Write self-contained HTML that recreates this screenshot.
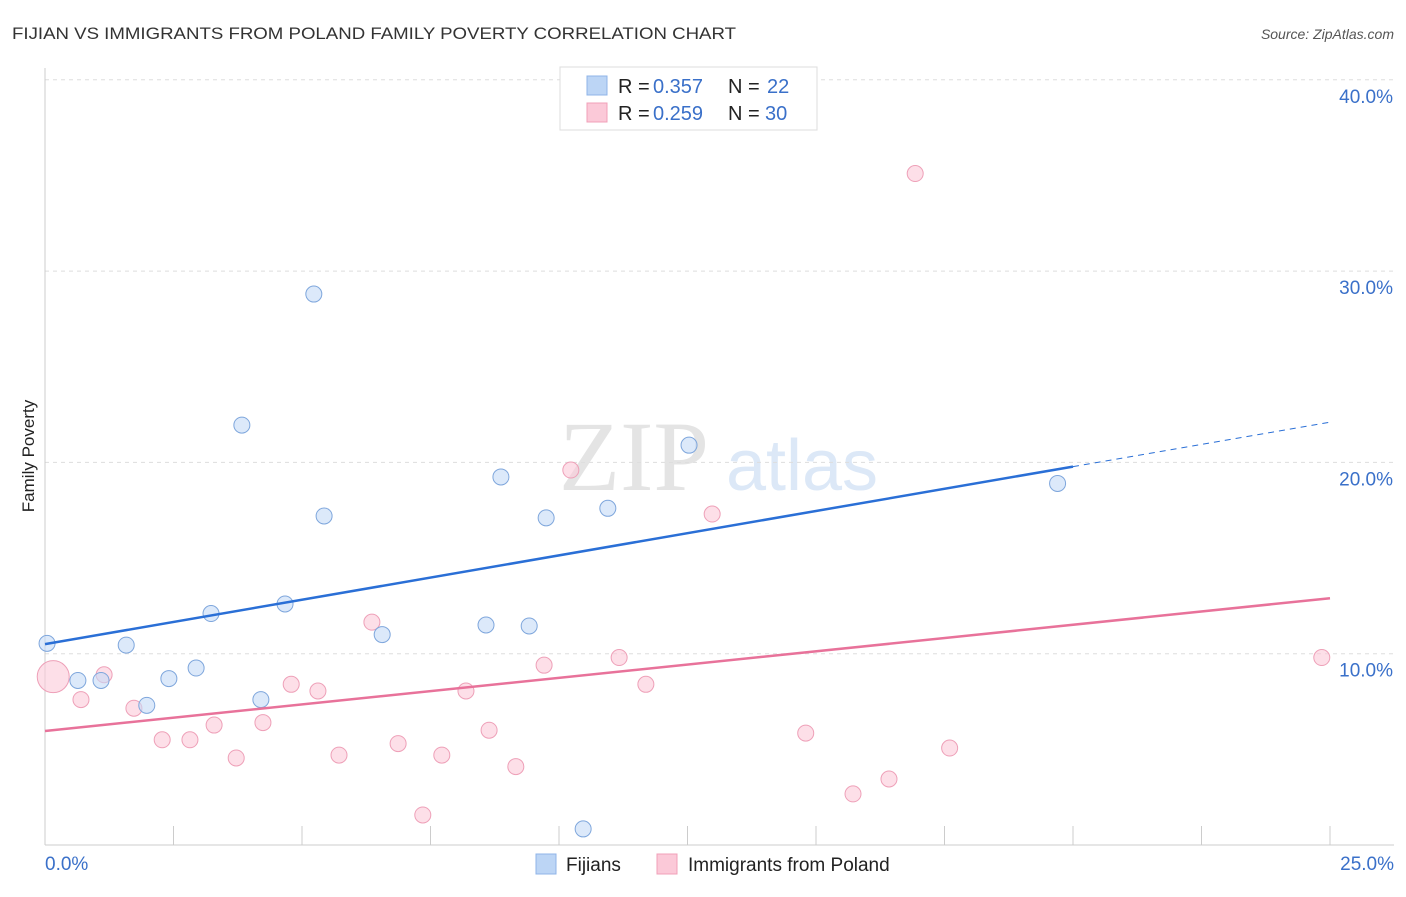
<!DOCTYPE html>
<html><head><meta charset="utf-8"><style>
body{margin:0;background:#fff;font-family:"Liberation Sans",sans-serif;}
</style></head><body>
<svg id="c" width="1406" height="892" xmlns="http://www.w3.org/2000/svg" style="font-family:'Liberation Sans',sans-serif">
<text x="12" y="39" font-size="17" fill="#333" textLength="724" lengthAdjust="spacingAndGlyphs">FIJIAN VS IMMIGRANTS FROM POLAND FAMILY POVERTY CORRELATION CHART</text>
<text x="1394" y="39" font-size="14" fill="#555" font-style="italic" text-anchor="end">Source: ZipAtlas.com</text>
<text x="634" y="490" font-size="100" fill="#e4e4e4" font-family="Liberation Serif" text-anchor="middle">ZIP</text>
<text x="802" y="490" font-size="72" fill="#dce8f7" text-anchor="middle">atlas</text>
<text transform="translate(34,456) rotate(-90)" font-size="17" fill="#222" text-anchor="middle">Family Poverty</text>
<g id="grid"></g><g id="marks"></g>
<g>
<rect x="560" y="67" width="257" height="63" fill="#fff" stroke="#ddd"/>
<rect x="587" y="76" width="20" height="19" fill="#bcd5f5" stroke="#8fb4e8"/>
<rect x="587" y="103" width="20" height="19" fill="#fbc9d8" stroke="#f0a0b8"/>
<text x="618" y="93" font-size="20" fill="#222">R =</text>
<text x="653" y="93" font-size="20" fill="#3a70c9">0.357</text>
<text x="728" y="93" font-size="20" fill="#222">N =</text>
<text x="767" y="93" font-size="20" fill="#3a70c9">22</text>
<text x="618" y="120" font-size="20" fill="#222">R =</text>
<text x="653" y="120" font-size="20" fill="#3a70c9">0.259</text>
<text x="728" y="120" font-size="20" fill="#222">N =</text>
<text x="765" y="120" font-size="20" fill="#3a70c9">30</text>
</g>
<g>
<rect x="536" y="854" width="20" height="20" fill="#bcd5f5" stroke="#8fb4e8"/>
<text x="566" y="871" font-size="19" fill="#222">Fijians</text>
<rect x="657" y="854" width="20" height="20" fill="#fbc9d8" stroke="#f0a0b8"/>
<text x="688" y="871" font-size="19" fill="#222">Immigrants from Poland</text>
</g>
</svg>
<script>
const yTicks=[10,20,30,40];
const yTickLabels=["10.0%","20.0%","30.0%","40.0%"];
const fijX=[0.04,0.64,1.09,1.58,1.98,2.41,2.94,3.23,3.83,4.2,4.67,5.23,5.43,6.56,8.58,8.87,9.42,9.75,10.47,10.95,12.53,19.7];
const fijY=[10.54,8.6,8.6,10.45,7.3,8.7,9.25,12.1,21.95,7.6,12.6,28.8,17.2,11,11.5,19.24,11.45,17.1,0.84,17.6,20.9,18.9];
const polX=[0.16,0.7,1.15,1.73,2.28,2.82,3.29,3.72,4.24,4.79,5.31,5.72,6.36,6.87,7.35,7.72,8.19,8.64,9.16,9.71,10.23,11.17,11.69,12.98,14.8,15.72,16.42,16.93,17.6,24.84];
const polY=[8.8,7.6,8.9,7.15,5.5,5.5,6.27,4.55,6.4,8.4,8.05,4.7,11.65,5.3,1.57,4.7,8.05,6.0,4.1,9.4,19.6,9.8,8.4,17.3,5.85,2.67,3.45,35.1,5.07,9.8];
const fijTrend=[10.5,22.1];
const polTrend=[5.96,12.9];
const ns="http://www.w3.org/2000/svg";
const X=v=>45+v*51.4, Y=v=>845-v*19.13;
function mk(t,a,p){const e=document.createElementNS(ns,t);for(const k in a)e.setAttribute(k,a[k]);p.appendChild(e);return e;}
const g=document.getElementById('grid'),m=document.getElementById('marks');
yTicks.forEach((t,i)=>{
 const l=mk('line',{x1:45,x2:1394,y1:Y(t),y2:Y(t),stroke:'#ddd','stroke-dasharray':'4,4'},g);
 
 
 const tx=mk('text',{x:1393,y:Y(t)+23,'font-size':19,fill:'#3a70c9','text-anchor':'end'},g);
 tx.textContent=yTickLabels[i];
 
 
});
mk('line',{x1:45,x2:45,y1:68,y2:845,stroke:'#ccc'},g);
mk('line',{x1:45,x2:1394,y1:845,y2:845,stroke:'#ccc'},g);
for(let i=0;i<=10;i++){const t=mk('line',{x1:X(i*2.5),x2:X(i*2.5),y1:826,y2:845,stroke:'#ccc'},g);
 }
[[0,"0.0%",'start',45],[25,"25.0%",'end',1394]].forEach(d=>{const t=mk('text',{x:d[3],y:870,'font-size':19,fill:'#3a70c9','text-anchor':d[2]},g);t.textContent=d[1];
 });
polX.forEach((x,i)=>{const c=mk('circle',{cx:X(x),cy:Y(polY[i]),r:i==0?16:8,fill:'#fbc9d8','fill-opacity':0.6,stroke:'#eea0b8'},m);
 });
fijX.forEach((x,i)=>{const c=mk('circle',{cx:X(x),cy:Y(fijY[i]),r:8,fill:'#c5dbf6','fill-opacity':0.6,stroke:'#7ea6dc'},m);
 });
const fy=x=>fijTrend[0]+(fijTrend[1]-fijTrend[0])*x/25;
let l=mk('line',{x1:X(0),y1:Y(fy(0)),x2:X(20),y2:Y(fy(20)),stroke:'#2a6fd6','stroke-width':2.5},m);

l=mk('line',{x1:X(20),y1:Y(fy(20)),x2:X(25),y2:Y(fy(25)),stroke:'#2a6fd6','stroke-width':1,'stroke-dasharray':'6,5'},m);

l=mk('line',{x1:X(0),y1:Y(polTrend[0]),x2:X(25),y2:Y(polTrend[1]),stroke:'#e8729a','stroke-width':2.5},m);

</script>
</body></html>
